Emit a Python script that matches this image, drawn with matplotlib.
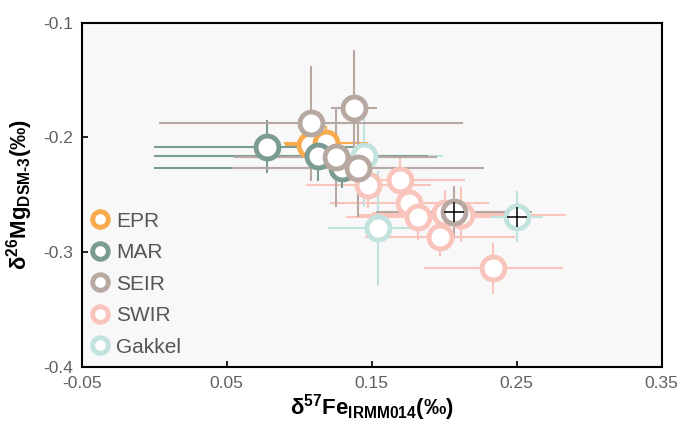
import matplotlib
matplotlib.use('Agg')
import matplotlib.pyplot as plt
import numpy as np

plt.rcParams['font.family'] = ['Liberation Sans', 'DejaVu Sans']
plt.rcParams['axes.unicode_minus'] = False
plt.rcParams['mathtext.fontset'] = 'custom'
plt.rcParams['mathtext.rm'] = 'Liberation Sans:bold'
plt.rcParams['mathtext.it'] = 'Liberation Sans:bold'
plt.rcParams['mathtext.bf'] = 'Liberation Sans:bold'
plt.rcParams['mathtext.default'] = 'regular'

# values
epr_x = [0.1075, 0.1185]
epr_y = [-0.207, -0.205]
epr_xerr = [0.017, 0.029]
epr_yerr = [0.012, 0.015]

mar_x = [0.078, 0.113, 0.1295]
mar_y = [-0.208, -0.2166, -0.2267]
mar_xerr_lo = [0.078, 0.113, 0.1295]
mar_xerr_hi = [0.072, 0.076, 0.062]
mar_yerr = [0.023, 0.021, 0.017]

seir_x = [0.108, 0.1380, 0.1253, 0.1404, 0.2067]
seir_y = [-0.1875, -0.1740, -0.2174, -0.2267, -0.2645]
seir_xerr = [0.105, 0.016, 0.07, 0.087, 0.054]
seir_yerr = [0.05, 0.05, 0.043, 0.043, 0.022]

swir_x = [0.1477, 0.1695, 0.176, 0.1822, 0.1971, 0.2005, 0.212, 0.2339]
swir_y = [-0.2412, -0.2369, -0.2567, -0.2694, -0.2863, -0.2659, -0.2674, -0.3139]
swir_xerr = [0.043, 0.045, 0.055, 0.05, 0.052, 0.05, 0.072, 0.048]
swir_yerr = [0.02, 0.02, 0.02, 0.02, 0.017, 0.02, 0.024, 0.022]

gak_x = [0.1445, 0.1541, 0.2504]
gak_y = [-0.2166, -0.279, -0.2689]
gak_xerr = [0.055, 0.034, 0.018]
gak_yerr = [0.044, 0.05, 0.022]

std_x = [0.2067, 0.2504]
std_y = [-0.2645, -0.2689]

c_epr = '#F9AA4A'
c_mar = '#7B9C92'
c_seir = '#B7A9A2'
c_swir = '#F9C4BC'
c_gak = '#C2E3DD'

fig = plt.figure(figsize=(6.83, 4.25), dpi=100)
ax = fig.add_axes([0.1196, 0.136, 0.849, 0.811])
ax.set_facecolor('#F8F8F8')

ebkw = dict(fmt='none', elinewidth=1.5, capsize=0, zorder=1)
ax.errorbar(swir_x, swir_y, xerr=swir_xerr, yerr=swir_yerr, ecolor=c_swir, **ebkw)
ax.errorbar(gak_x, gak_y, xerr=gak_xerr, yerr=gak_yerr, ecolor=c_gak, **ebkw)
ax.errorbar(epr_x, epr_y, xerr=epr_xerr, yerr=epr_yerr, ecolor=c_epr, **ebkw)
ax.errorbar(mar_x, mar_y, xerr=[mar_xerr_lo, mar_xerr_hi], yerr=mar_yerr, ecolor=c_mar, **ebkw)
ax.errorbar(seir_x, seir_y, xerr=seir_xerr, yerr=seir_yerr, ecolor=c_seir, **ebkw)

mk = dict(ls='none', marker='o', ms=16.5, mew=3.5, mfc='white')
h_swir, = ax.plot(swir_x, swir_y, mec=c_swir, label='SWIR', zorder=3, **mk)
h_gak, = ax.plot(gak_x, gak_y, mec=c_gak, label='Gakkel', zorder=4, **mk)
h_epr, = ax.plot(epr_x, epr_y, mec=c_epr, label='EPR', zorder=5, **mk)
h_mar, = ax.plot(mar_x, mar_y, mec=c_mar, label='MAR', zorder=6, **mk)
h_seir, = ax.plot(seir_x, seir_y, mec=c_seir, label='SEIR', zorder=7, **mk)
ax.plot(std_x, std_y, ls='none', marker='+', ms=15, mew=1.1, color='black', zorder=8)

ax.set_xlim(-0.05, 0.35)
ax.set_ylim(-0.4, -0.1)
ax.set_xticks([-0.05, 0.05, 0.15, 0.25, 0.35])
ax.set_xticklabels(['-0.05', '0.05', '0.15', '0.25', '0.35'])
ax.set_yticks([-0.4, -0.3, -0.2, -0.1])
ax.set_yticklabels(['-0.4', '-0.3', '-0.2', '-0.1'])
ax.tick_params(direction='in', length=4, width=1.2, labelsize=12.5, labelcolor='#606060', pad=6)
for s in ax.spines.values():
    s.set_linewidth(1.5)

ax.set_xlabel('δ$^{57}$Fe$_{IRMM014}$(‰)', fontsize=16, fontweight='bold', labelpad=1)
ax.set_ylabel(r'δ$^{26}$Mg$_{DSM\text{-}3}$(‰)', fontsize=16, fontweight='bold', labelpad=6)

leg = ax.legend(handles=[h_epr, h_mar, h_seir, h_swir, h_gak], loc='lower left',
                frameon=False, fontsize=15, markerscale=0.68, handlelength=0.8,
                handletextpad=0.35, labelspacing=0.6, borderaxespad=0.2,
                borderpad=0.3)
for t in leg.get_texts():
    t.set_color('#555555')

fig.savefig('out.png', dpi=100)
